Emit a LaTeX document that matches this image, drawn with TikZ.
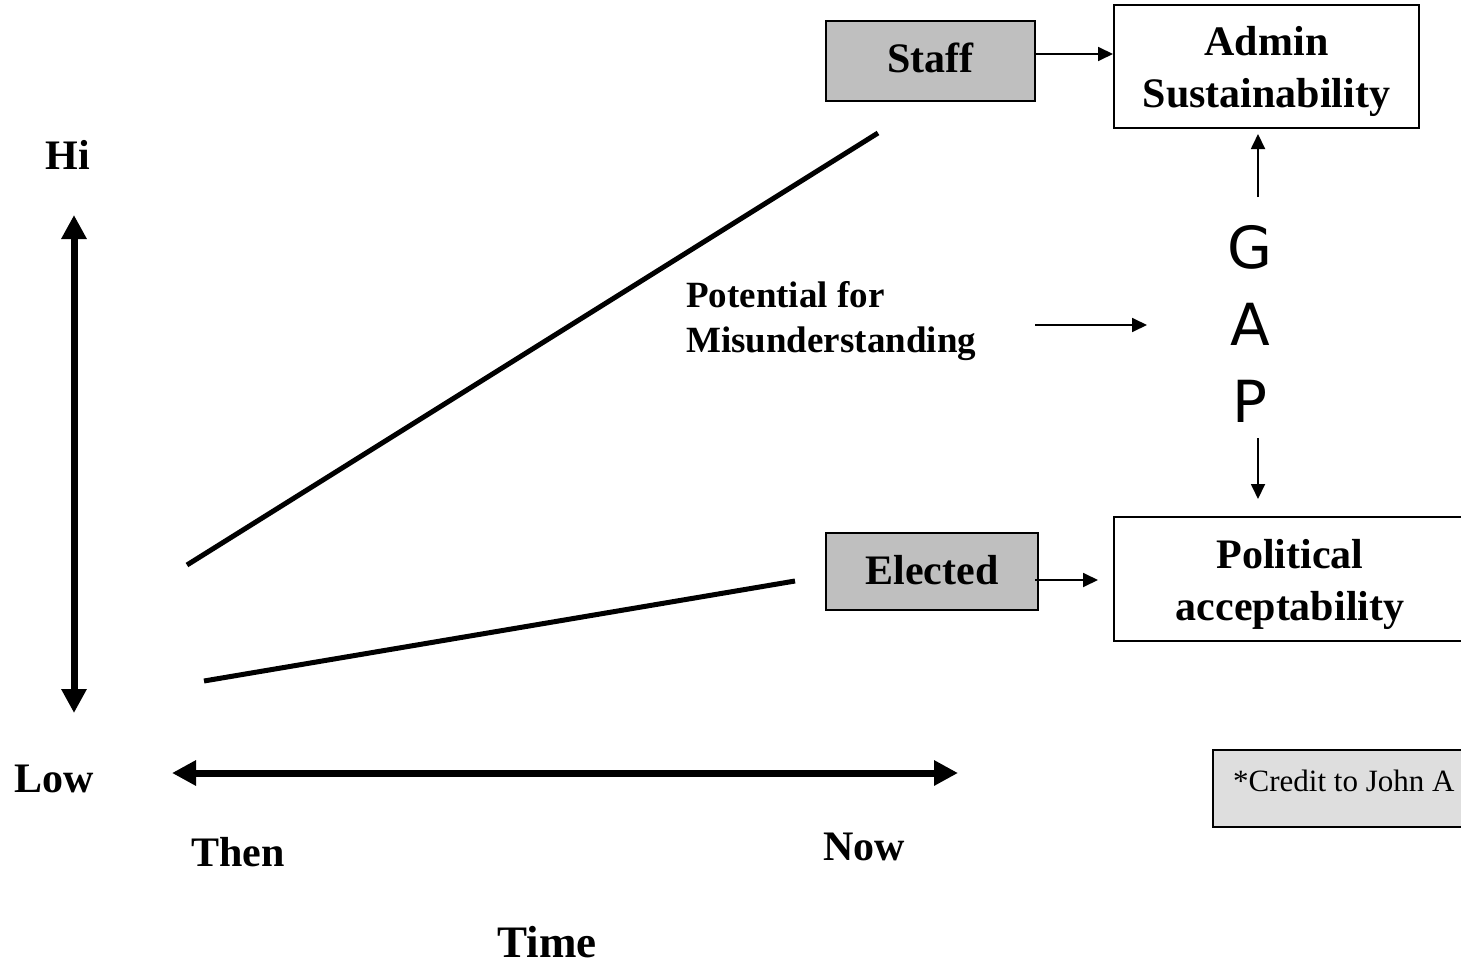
\documentclass[tikz,border=0pt]{standalone}
\usepackage{fontspec}
\setmainfont{Liberation Serif}
\newfontfamily\gapfont{DejaVu Sans}
\usetikzlibrary{arrows.meta}
\begin{document}
\begin{tikzpicture}[x=1pt,y=-1pt,
  big/.style={font=\fontsize{42}{52}\selectfont\bfseries, align=center, inner sep=0pt},
  graybox/.style={draw=black, line width=2pt, fill=gray!50!white, inner sep=0pt},
  whitebox/.style={draw=black, line width=2pt, fill=white, inner sep=0pt},
  thinarrow/.style={line width=1.8pt, -{Triangle[length=15pt,width=14pt]}},
  axis/.style={line width=7pt, {Triangle[length=24pt,width=24pt]}-{Triangle[length=24pt,width=24pt]}},
  trend/.style={line width=5pt}
]
\useasboundingbox (0,0) rectangle (1461,966);
\clip (0,0) rectangle (1461,966);

% boxes
\node[graybox, minimum width=209pt, minimum height=80pt,
      label={[big, yshift=3pt]center:Staff}] (staff) at (930.5,61) {};
\node[whitebox, minimum width=305pt, minimum height=123pt,
      label={[big, yshift=-5pt]center:Admin\\Sustainability}] (admin) at (1266.5,66.5) {};
\node[graybox, minimum width=212pt, minimum height=77pt,
      label={[big, yshift=1pt]center:Elected}] (elected) at (932,571.5) {};
\node[whitebox, minimum width=352pt, minimum height=124pt,
      label={[big, yshift=-5pt]center:Political\\acceptability}] (political) at (1290,579) {};
\node[draw=black, line width=2pt, fill=black!13, minimum width=262pt, minimum height=77pt, inner sep=0pt] (creditbox) at (1344,788.5) {};
\node[anchor=base west, font=\fontsize{31}{37}\selectfont, inner sep=0pt] (credit) at (1233,791) {*Credit to John A};

% GAP
\node[font=\gapfont\fontsize{58}{77}\selectfont, align=center, inner sep=0pt] (gap) at (1250,324) {G\\A\\P};
\coordinate (gaptop) at (1258,197);
\coordinate (gapbot) at (1258,438);
\draw[thinarrow, shorten >=5pt] (gaptop) -- (admin.south -| gaptop);
\draw[thinarrow, shorten >=17pt] (gapbot) -- (political.north -| gapbot);

% staff / elected arrows
\coordinate (stout) at (1035,54);
\draw[thinarrow] (stout) -- (admin.west |- stout);
\coordinate (elout) at (1035,580);
\coordinate (elin) at (1098,580);
\draw[thinarrow] (elout) -- (elin);

% potential
\node[font=\fontsize{37}{45}\selectfont\bfseries, align=left, anchor=west, inner sep=0pt] (pot) at (686,321) {Potential for\\Misunderstanding};
\coordinate (potout) at (1035,325);
\coordinate (potin) at (1147,325);
\draw[thinarrow] (potout) -- (potin);

% axes
\coordinate (ytop) at (74,215);
\coordinate (ybot) at (74,713);
\draw[axis] (ytop) -- (ybot);
\coordinate (xleft) at (172,773);
\coordinate (xright) at (958,773);
\draw[axis] (xleft) -- (xright);

% trends
\coordinate (s0) at (187,565);
\coordinate (s1) at (878,133);
\draw[trend] (s0) -- (s1);
\coordinate (e0) at (204,681);
\coordinate (e1) at (795,581);
\draw[trend] (e0) -- (e1);

% labels
\node[big] (hi) at (68,155) {Hi};
\node[big] (low) at (54,779) {Low};
\node[big] (then) at (238,852) {Then};
\node[big] (now) at (864,847) {Now};
\node[big, font=\fontsize{45}{52}\selectfont\bfseries] (time) at (547,942) {Time};
\end{tikzpicture}
\end{document}
